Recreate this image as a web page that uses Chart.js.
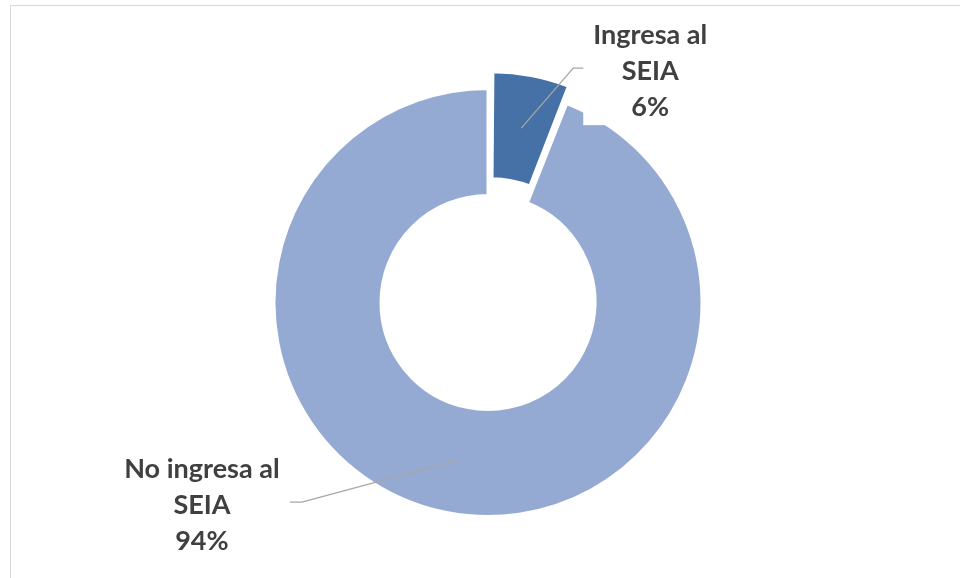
<!DOCTYPE html>
<html>
<head>
<meta charset="utf-8">
<script src="https://cdn.jsdelivr.net/npm/chart.js@4.4.1/dist/chart.umd.min.js"></script>
<style>
    body { margin: 0; background: #fff; }
    .wrap { position: relative; width: 960px; height: 578px; overflow: hidden; }
    .frame { position: absolute; left: 10px; top: 5px; width: 980px; height: 600px; border: 1px solid #d9d9d9; }
    canvas { position: absolute; left: 0; top: 0; }
</style>
</head>
<body>
<div class="wrap">
    <div class="frame"></div>
    <canvas id="seiaChart" width="960" height="578"></canvas>
</div>
<script>
// Datos del gráfico
const categories = ['Ingresa al SEIA', 'No ingresa al SEIA'];
const labelLines = [['Ingresa al', 'SEIA'], ['No ingresa al', 'SEIA']];
const percentValues = [6, 94];

const sliceColors = ['#4571a7', '#95aad2'];
const sliceOffsets = [68, 0];

// posición de las etiquetas (codo de la línea guía, cola, centro del texto)
const labelStyle = [
    { elbow: [52, -60], tail: 10, text: [67, 3] },
    { elbow: [-156, 42], tail: -12, text: [-88, 3] }
];

// mantiene el radio de la porción separada igual al del anillo
const fixOffsetRadius = {
    id: 'fixOffsetRadius',
    beforeDatasetsDraw(chart) {
        const meta = chart.getDatasetMeta(0);
        const ctrl = meta.controller;
        meta.data.forEach(function(arc) {
            const off = (arc.options.offset || 0) / 4;
            const fix = 1 - Math.sin(Math.min(Math.PI, arc.circumference || 0));
            arc.outerRadius = ctrl.outerRadius - off * fix;
            arc.innerRadius = ctrl.innerRadius - off * fix;
        });
    }
};

// etiquetas con líneas guía
const calloutLabels = {
    id: 'calloutLabels',
    afterDatasetsDraw(chart) {
        const ctx = chart.ctx;
        const meta = chart.getDatasetMeta(0);
        const ctrl = meta.controller;
        const midR = (ctrl.outerRadius + ctrl.innerRadius) / 2;
        const lineH = 36;
        meta.data.forEach(function(arc, i) {
            const ang = (arc.startAngle + arc.endAngle) / 2;
            const shift = (arc.options.offset || 0) / 4;
            const ax = arc.x + Math.cos(ang) * (midR + shift);
            const ay = arc.y + Math.sin(ang) * (midR + shift);
            const st = labelStyle[i];
            const ex = ax + st.elbow[0], ey = ay + st.elbow[1];
            const tx = ex + st.tail;
            const cx = tx + st.text[0], cy = ey + st.text[1];
            const lines = labelLines[i].concat([percentValues[i] + '%']);

            ctx.save();
            ctx.font = 'bold 27px Lato';
            // fondo blanco de la etiqueta
            const boxW = Math.abs(cx - tx) * 2;
            const boxH = lineH * lines.length;
            ctx.fillStyle = '#ffffff';
            ctx.fillRect(cx - boxW / 2, cy - boxH / 2, boxW, boxH);

            ctx.strokeStyle = '#a6a6a6';
            ctx.lineWidth = 1.3;
            ctx.beginPath();
            ctx.moveTo(ax, ay);
            ctx.lineTo(ex, ey);
            ctx.lineTo(tx, ey);
            ctx.stroke();

            ctx.fillStyle = '#404040';
            ctx.textAlign = 'center';
            ctx.textBaseline = 'middle';
            lines.forEach(function(l, k) {
                ctx.fillText(l, cx, cy + (k - (lines.length - 1) / 2) * lineH);
            });
            ctx.restore();
        });
    }
};

const seiaCtx = document.getElementById('seiaChart').getContext('2d');
const seiaChart = new Chart(seiaCtx, {
    type: 'doughnut',
    data: {
        labels: categories,
        datasets: [{
            data: percentValues,
            backgroundColor: sliceColors,
            borderColor: '#ffffff',
            borderWidth: 3,
            offset: sliceOffsets,
            hoverOffset: 0
        }]
    },
    options: {
        responsive: false,
        animation: false,
        cutout: '50%',
        layout: {
            padding: { top: 53, bottom: 26, left: 16, right: 0 }
        },
        plugins: {
            legend: { display: false },
            tooltip: { enabled: false }
        }
    },
    plugins: [fixOffsetRadius, calloutLabels]
});
</script>
</body>
</html>
